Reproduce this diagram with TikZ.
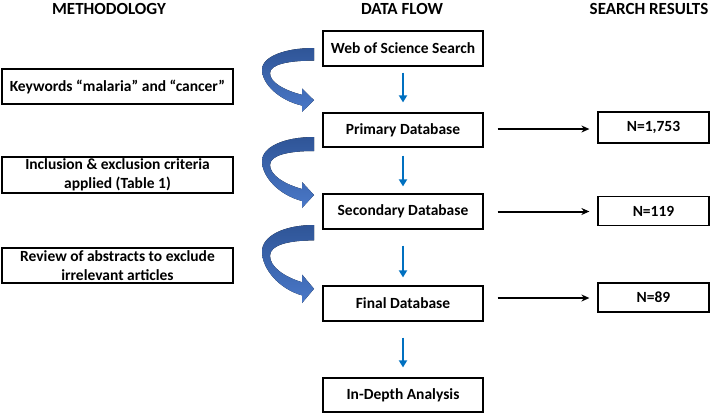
\documentclass[tikz,border=0pt]{standalone}
\usepackage{fontspec}
\setmainfont{Carlito}
\usetikzlibrary{arrows.meta}
\definecolor{flowblue}{HTML}{0070C0}
\definecolor{darkarc}{HTML}{2F5597}
\definecolor{lightarc}{HTML}{4A78C8}
\newcommand\curvarrow[2]{%
  \begin{scope}[shift={(314,#1)},yscale=#2]
    \fill[top color=darkarc,bottom color=lightarc]
      (0,0) .. controls (-30,0) and (-52,10) .. (-52,24)
      .. controls (-52,40) and (-35,58) .. (-12,64)
      -- (-12,71) -- (0,58) -- (-12,45) -- (-12,52)
      .. controls (-30,47) and (-44,38) .. (-44,28)
      .. controls (-44,18) and (-25,14) .. (0,14) -- cycle;
  \end{scope}}
\begin{document}
\begin{tikzpicture}[x=1pt,y=-1pt,
  box/.style={draw=black,line width=1.2pt,fill=white,inner sep=0pt,
    font=\bfseries\fontsize{15.5}{18.5}\selectfont,align=center},
  header/.style={font=\bfseries\fontsize{17}{20}\selectfont},
  flow/.style={draw=flowblue,line width=2pt,-{Triangle[length=7pt,width=8pt]}},
  result/.style={draw=black,line width=2pt,-{Stealth[length=8pt,width=7pt]}}]
\useasboundingbox (0,0) rectangle (710,413);
% headers
\node[header] (h1) at (109,9) {METHODOLOGY};
\node[header] (h2) at (402,9) {DATA FLOW};
\node[header] (h3) at (649,9) {SEARCH RESULTS};
% left column
\node[box,minimum width=231pt,minimum height=35pt] (kw) at (117.5,86.5) {Keywords “malaria” and “cancer”};
\node[box,minimum width=231pt,minimum height=36pt] (inc) at (117.5,175) {Inclusion \& exclusion criteria\\applied (Table 1)};
\node[box,minimum width=231pt,minimum height=35pt] (rev) at (117.5,265.5) {Review of abstracts to exclude\\irrelevant articles};
% middle column
\node[box,minimum width=160pt,minimum height=35pt] (web) at (403,48.5) {Web of Science Search};
\node[box,minimum width=160pt,minimum height=34pt] (pri) at (403,130) {Primary Database};
\node[box,minimum width=160pt,minimum height=35pt] (sec) at (403,211.5) {Secondary Database};
\node[box,minimum width=160pt,minimum height=35pt] (fin) at (403,303.5) {Final Database};
\node[box,minimum width=160pt,minimum height=34pt] (ida) at (403,395) {In-Depth Analysis};
% right column
\node[box,minimum width=111pt,minimum height=31pt] (n1) at (653.5,127.5) {N=1,753};
\node[box,minimum width=111pt,minimum height=29pt] (n2) at (653.5,211) {N=119};
\node[box,minimum width=111pt,minimum height=29pt] (n3) at (653.5,297.5) {N=89};
% blue flow arrows
\draw[flow,shorten <=6pt,shorten >=10pt] (web.south) -- (pri.north);
\draw[flow,shorten <=8pt,shorten >=7pt] (pri.south) -- (sec.north);
\draw[flow,shorten <=16pt,shorten >=8pt] (sec.south) -- (fin.north);
\draw[flow,shorten <=16pt,shorten >=10pt] (fin.south) -- (ida.north);
% result arrows
\draw[result,shorten <=14pt,shorten >=8pt] ([yshift=1pt]pri.east) -- ([yshift=1pt]pri.east -| n1.west);
\draw[result,shorten <=14pt,shorten >=8pt] (sec.east) -- (sec.east -| n2.west);
\draw[result,shorten <=14pt,shorten >=8pt] ([yshift=5.5pt]fin.east) -- ([yshift=5.5pt]fin.east -| n3.west);
% curved arrows
\curvarrow{48}{0.9}
\curvarrow{137}{1.0}
\curvarrow{225}{1.1}
\end{tikzpicture}
\end{document}
